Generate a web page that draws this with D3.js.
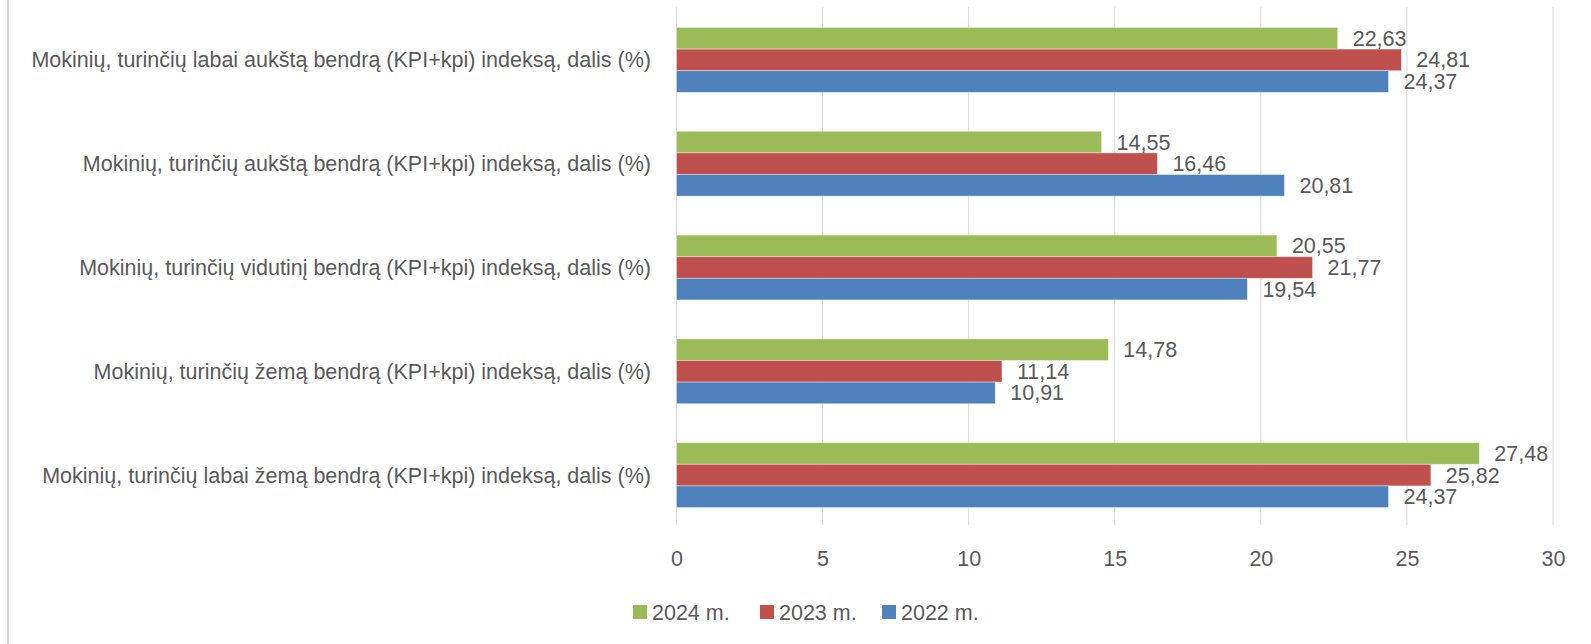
<!DOCTYPE html>
<html>
<head>
<meta charset="utf-8">
<title>KPI indeksas</title>
<script src="https://d3js.org/d3.v7.min.js"></script>
<style>
  body { margin: 0; background: #fff; }
  svg text { font-family: "Liberation Sans", Arial, sans-serif; fill: #595959; font-size: 21.5px; }
  .grid line { stroke: #d9d9d9; stroke-width: 1px; }
</style>
</head>
<body>
<div id="chart"></div>
<script>
// duomenys
var categories = [
  "Mokinių, turinčių labai aukštą bendrą (KPI+kpi) indeksą, dalis (%)",
  "Mokinių, turinčių aukštą bendrą (KPI+kpi) indeksą, dalis (%)",
  "Mokinių, turinčių vidutinį bendrą (KPI+kpi) indeksą, dalis (%)",
  "Mokinių, turinčių žemą bendrą (KPI+kpi) indeksą, dalis (%)",
  "Mokinių, turinčių labai žemą bendrą (KPI+kpi) indeksą, dalis (%)"
];
var seriesNames = ["2024 m.", "2023 m.", "2022 m."];
var seriesColors = ["#9bbb59", "#c0504d", "#4f81bd"];
var values2024 = [22.63, 14.55, 20.55, 14.78, 27.48];
var values2023 = [24.81, 16.46, 21.77, 11.14, 25.82];
var values2022 = [24.37, 20.81, 19.54, 10.91, 24.37];
var xTicks = [0, 5, 10, 15, 20, 25, 30];

var width = 1591, height = 644;
var svg = d3.select("#chart").append("svg")
    .attr("width", width)
    .attr("height", height);

// kairysis rėmelis
svg.append("line")
    .attr("x1", 8).attr("x2", 8)
    .attr("y1", 0).attr("y2", height)
    .attr("stroke", "#d9d9d9").attr("stroke-width", 2);

var x = d3.scaleLinear().domain([0, 30]).range([676.5, 1553]);
var y = d3.scaleBand().domain(categories).range([8, 527]).paddingInner(0.375).paddingOuter(0.1875);
var ySub = d3.scaleBand().domain(seriesNames).range([0, y.bandwidth()]);

var allSeries = [values2024, values2023, values2022];

// tinklelis
svg.append("g").attr("class", "grid")
  .selectAll("line")
  .data(xTicks)
  .enter().append("line")
    .attr("x1", function(d) { return x(d); })
    .attr("x2", function(d) { return x(d); })
    .attr("y1", 7)
    .attr("y2", 525);

// stulpeliai
var groups = svg.selectAll(".cat")
    .data(categories)
  .enter().append("g")
    .attr("class", "cat")
    .attr("transform", function(d) { return "translate(0," + y(d) + ")"; });

groups.each(function(cat, i) {
  var g = d3.select(this);
  var rows = seriesNames.map(function(s, j) { return { s: s, v: allSeries[j][i], c: seriesColors[j] }; });
  g.selectAll("rect")
    .data(rows)
  .enter().append("rect")
    .attr("x", x(0))
    .attr("y", function(d) { return ySub(d.s); })
    .attr("width", function(d) { return x(d.v) - x(0); })
    .attr("height", ySub.bandwidth())
    .attr("fill", function(d) { return d.c; })
    .attr("stroke", "#ffffff")
    .attr("stroke-opacity", 0.5)
    .attr("stroke-width", 0.8);
  g.selectAll(".lbl")
    .data(rows)
  .enter().append("text")
    .attr("class", "lbl")
    .attr("x", function(d) { return x(d.v) + 15; })
    .attr("y", function(d) { return ySub(d.s) + ySub.bandwidth() / 2; })
    .attr("dy", "0.35em")
    .text(function(d) { return d3.format(".2f")(d.v).replace(".", ","); });
});

// kategorijų pavadinimai
svg.selectAll(".catlbl")
    .data(categories)
  .enter().append("text")
    .attr("class", "catlbl")
    .attr("x", 651)
    .attr("y", function(d) { return y(d) + y.bandwidth() / 2; })
    .attr("dy", "0.35em")
    .attr("text-anchor", "end")
    .text(function(d) { return d; });

// x ašis
var xAxis = d3.axisBottom(x).tickValues(xTicks).tickSize(0).tickPadding(0);
var ax = svg.append("g").attr("transform", "translate(0,558)").call(xAxis);
ax.select(".domain").remove();
ax.attr("font-size", null).attr("font-family", null);
ax.selectAll("text")
    .attr("y", 0)
    .attr("dy", "0.35em");

// legenda
var legendX = [633, 760, 882];
var legend = svg.selectAll(".leg")
    .data(seriesNames)
  .enter().append("g")
    .attr("class", "leg")
    .attr("transform", function(d, i) { return "translate(" + legendX[i] + ",612)"; });
legend.append("rect")
    .attr("x", 0).attr("y", -7)
    .attr("width", 14).attr("height", 14)
    .attr("fill", function(d, i) { return seriesColors[i]; });
legend.append("text")
    .attr("x", 19)
    .attr("dy", "0.35em")
    .text(function(d) { return d; });
</script>
</body>
</html>
